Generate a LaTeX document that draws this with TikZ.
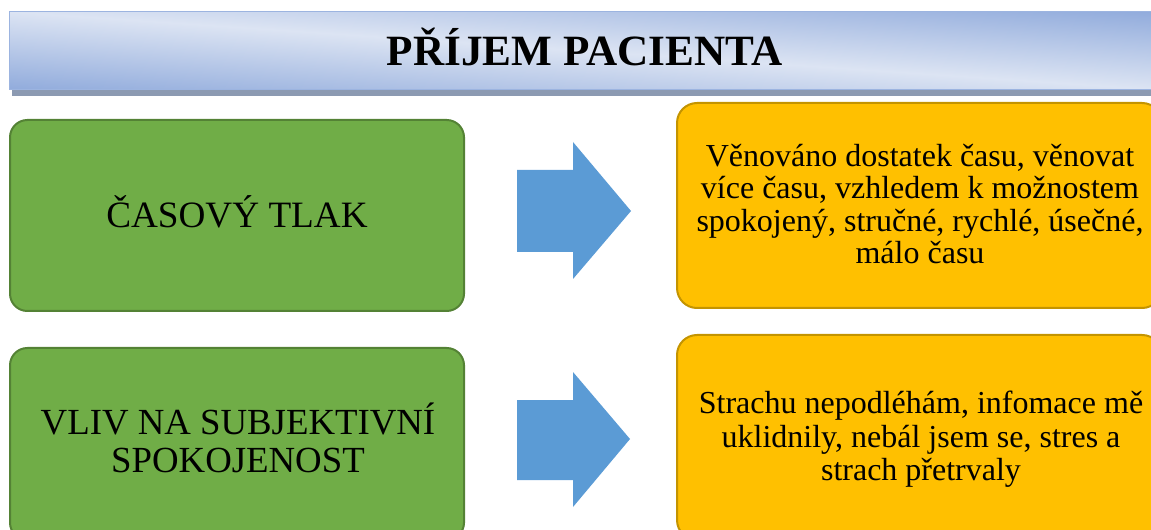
\documentclass[tikz,border=0pt]{standalone}
\usepackage{fontspec}
\setmainfont{Liberation Serif}
\definecolor{bannerdark}{HTML}{8EA9DB}
\definecolor{bannerlight}{HTML}{DCE4F3}
\definecolor{bannerline}{HTML}{9CB4E0}
\definecolor{bannershadow}{HTML}{8C9AB2}
\definecolor{greenfill}{HTML}{70AD47}
\definecolor{greenline}{HTML}{548235}
\definecolor{orangefill}{HTML}{FFC000}
\definecolor{orangeline}{HTML}{C49400}
\definecolor{arrowblue}{HTML}{5B9BD5}
\begin{document}
\begin{tikzpicture}[x=0.75pt,y=-0.75pt,
  banner/.style={draw=bannerline, line width=0.75pt, inner sep=0pt, outer sep=0pt},
  greenbox/.style={draw=greenline, fill=greenfill, line width=1.5pt,
    rounded corners=13pt, inner sep=0pt, outer sep=0pt},
  orangebox/.style={draw=orangeline, fill=orangefill, line width=1.5pt,
    rounded corners=15pt, inner sep=0pt, outer sep=0pt},
  blockarrow/.style={fill=arrowblue},
  boxtext/.style={inner sep=0pt, align=center, text=black}]
\useasboundingbox (0,0) rectangle (1151,530);
\clip (0,0) rectangle (1151,530);

% title banner: offset shadow, then a slanted light band across a blue fill
\fill[bannershadow] (12,18) rectangle (1165,96);
\begin{scope}
  \clip (9,12) rectangle (1160,90);
  \begin{scope}[transform canvas={yslant=-0.0678}]
    \shade[top color=bannerdark, bottom color=bannerdark, middle color=bannerlight]
      (0,-70) rectangle (1170,92);
  \end{scope}
\end{scope}
\node[banner, minimum width=863.25pt, minimum height=58.5pt,
  text height=22.5pt, text depth=0pt,
  font=\fontsize{32.4pt}{36pt}\selectfont\bfseries] (title) at (584.5,51)
  {PŘÍJEM PACIENTA};

% left column
\node[greenbox, minimum width=340.5pt, minimum height=143.25pt,
  text height=18.75pt, text depth=0pt,
  font=\fontsize{27.9pt}{33pt}\selectfont] (g1) at (237,215.5) {ČASOVÝ TLAK};
\node[greenbox, minimum width=340.5pt, minimum height=144pt] (g2) at (237,444) {};
\node[boxtext, font=\fontsize{27.6pt}{28.5pt}\selectfont] (g2t) at (238,438)
  {VLIV NA SUBJEKTIVNÍ\\SPOKOJENOST};

% right column
\node[orangebox, minimum width=363.75pt, minimum height=153.75pt] (o1) at (919.5,205.5) {};
\node[boxtext, font=\fontsize{24pt}{24.2pt}\selectfont] (o1t) at (920,204)
  {Věnováno dostatek času, věnovat\\více času, vzhledem k možnostem\\spokojený, stručné, rychlé, úsečné,\\málo času};
\node[orangebox, minimum width=363.75pt, minimum height=153.75pt] (o2) at (919.5,437.5) {};
\node[boxtext, font=\fontsize{24pt}{25pt}\selectfont] (o2t) at (921,439.5)
  {Strachu nepodléhám, infomace mě\\uklidnily, nebál jsem se, stres a\\strach přetrvaly};

% block arrows between the columns
\coordinate (a1) at (517,211);
\fill[blockarrow] (a1) ++(0,-41) -- ++(56,0) -- ++(0,-28) -- ++(58,69)
  -- ++(-58,68) -- ++(0,-27) -- ++(-56,0) -- cycle;
\coordinate (a2) at (517,440);
\fill[blockarrow] (a2) ++(0,-40) -- ++(56,0) -- ++(0,-28) -- ++(57,67)
  -- ++(-57,68) -- ++(0,-27) -- ++(-56,0) -- cycle;
\end{tikzpicture}
\end{document}
